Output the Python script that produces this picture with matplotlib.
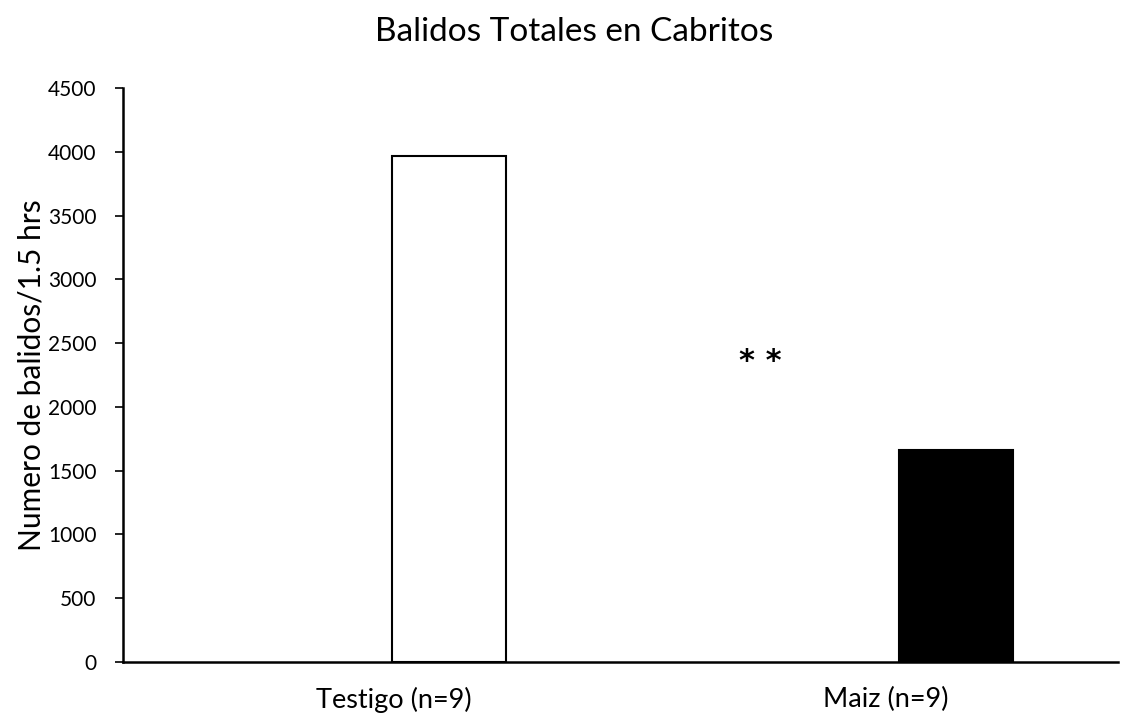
import matplotlib
matplotlib.use("Agg")
import matplotlib.pyplot as plt

# Data
categories = ["Testigo (n=9)", "Maiz (n=9)"]
values = [3965, 1660]
face_colors = ["white", "black"]
y_ticks = [0, 500, 1000, 1500, 2000, 2500, 3000, 3500, 4000, 4500]
significance = "* *"

plt.rcParams["font.family"] = ["Lato", "DejaVu Sans"]

fig = plt.figure(figsize=(11.25, 7.19), dpi=100)
ax = fig.add_axes([123 / 1125, 57 / 719, 995 / 1125, 574 / 719])

positions = [0, 1]
bar_offset = 0.143
label_offsets = [0.035, 0.005]
bar_width = 0.225
ax.bar([p + bar_offset for p in positions], values, width=bar_width,
       color=face_colors, edgecolor="black", linewidth=1.5, zorder=2)

ax.set_xlim(-0.5, 1.4625)
ax.set_ylim(0, 4500)
ax.set_yticks(y_ticks)
ax.set_yticklabels([str(t) for t in y_ticks], fontsize=15)
ax.set_xticks([p + o for p, o in zip(positions, label_offsets)])
ax.set_xticklabels(categories, fontsize=19.5)
ax.tick_params(axis="x", length=0, pad=18)
ax.tick_params(axis="y", length=6, width=1.2, pad=13)

for side in ("top", "right"):
    ax.spines[side].set_visible(False)
for side in ("left", "bottom"):
    ax.spines[side].set_linewidth(1.8)

ax.set_ylabel("Numero de balidos/1.5 hrs", fontsize=21.5, labelpad=2)

ax.text(0.757, 2355, significance, ha="center", va="center", fontsize=22,
        family="DejaVu Sans", fontweight="bold")

fig.text(574 / 1125, 1 - 32 / 719, "Balidos Totales en Cabritos",
         ha="center", va="center", fontsize=24)

fig.savefig("out.png", dpi=100)
